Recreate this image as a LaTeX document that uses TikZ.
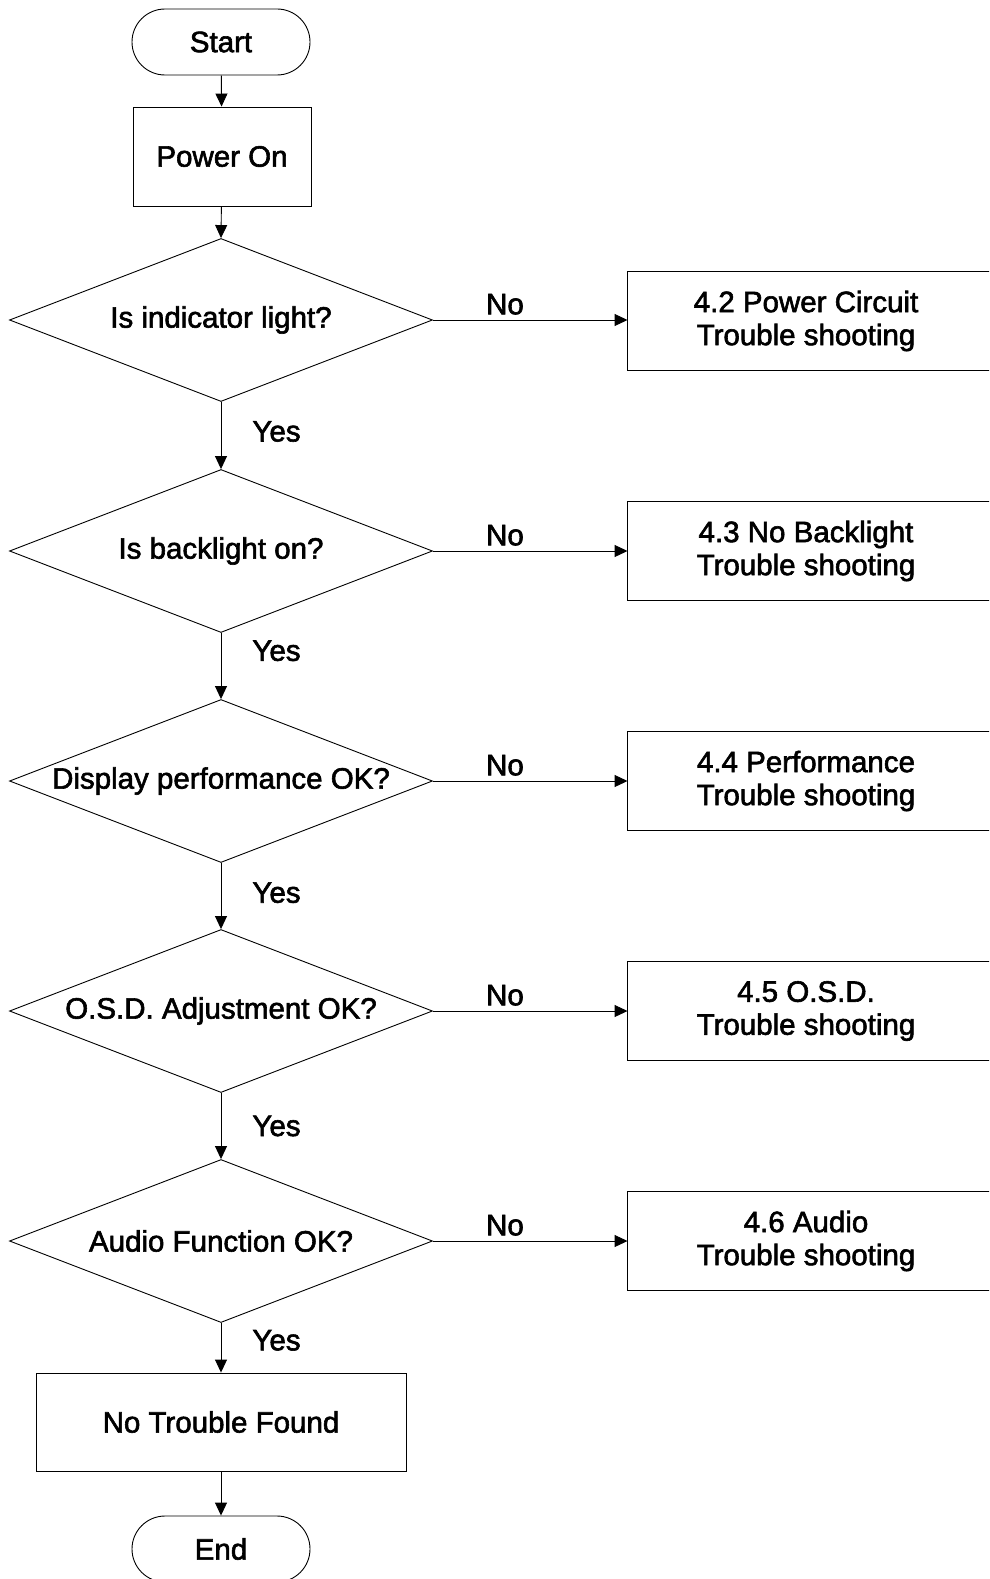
\documentclass[tikz,border=0pt]{standalone}
\usepackage{fontspec}
\setmainfont{Liberation Sans}[FakeBold=2]
\usetikzlibrary{shapes.geometric,arrows.meta}
\begin{document}
\begin{tikzpicture}[x=1pt,y=1pt,line width=0.9pt,
  every node/.style={font=\fontsize{29.5}{33}\selectfont},
  term/.style={draw, rectangle, rounded corners=33pt, minimum width=178pt, minimum height=66pt, inner sep=0pt},
  proc/.style={draw, rectangle, minimum width=178pt, minimum height=99pt, inner sep=0pt},
  wideproc/.style={draw, rectangle, minimum width=370pt, minimum height=98pt, inner sep=0pt},
  dec/.style={draw, diamond, aspect=2.6, minimum width=423pt, minimum height=163pt, inner sep=0pt},
  side/.style={rectangle, minimum width=356pt, minimum height=98pt, inner sep=0pt, align=center},
  sideframe/.style={draw},
  arr/.style={-{Triangle[length=13pt,width=12pt]}},
  yeslbl/.style={anchor=west, inner sep=0pt, xshift=31pt},
  nolbl/.style={anchor=south, inner sep=0pt, yshift=5pt}]
\useasboundingbox (0,0) rectangle (989,-1579);
\clip (0,0) rectangle (989,-1579);
% main column
\node[term] (start) at (221,-42) {Start};
\node[proc] (power) at (222,-156.5) {Power On};
\node[dec] (d1) at (221,-320) {Is indicator light?};
\node[dec] (d2) at (221,-551) {Is backlight on?};
\node[dec] (d3) at (221,-781) {Display performance OK?};
\node[dec] (d4) at (221,-1011) {O.S.D. Adjustment OK?};
\node[dec] (d5) at (221,-1241) {Audio Function OK?};
\node[wideproc] (ntf) at (221,-1422) {No Trouble Found};
\node[term] (end) at (221,-1549) {End};
% side boxes
\node[side] (b1) at (806,-321) {4.2 Power Circuit\\Trouble shooting};
\node[side] (b2) at (806,-551) {4.3 No Backlight\\Trouble shooting};
\node[side] (b3) at (806,-781) {4.4 Performance\\Trouble shooting};
\node[side] (b4) at (806,-1011) {4.5 O.S.D.\\Trouble shooting};
\node[side] (b5) at (806,-1241) {4.6 Audio\\Trouble shooting};
\foreach \b in {b1,b2,b3,b4,b5}{
  \draw[sideframe] ([xshift=30pt]\b.north east) -- (\b.north west) -- (\b.south west) -- ([xshift=30pt]\b.south east);
}
% connectors
\draw[arr] (start) -- (power);
\draw[arr] (power) -- (d1.north);
\draw[arr] (d1.south) -- node[yeslbl, pos=0.44] {Yes} (d2.north);
\draw[arr] (d2.south) -- node[yeslbl, pos=0.27] {Yes} (d3.north);
\draw[arr] (d3.south) -- node[yeslbl, pos=0.45] {Yes} (d4.north);
\draw[arr] (d4.south) -- node[yeslbl, pos=0.5] {Yes} (d5.north);
\draw[arr] (d5.south) -- node[yeslbl, pos=0.35] {Yes} (ntf.north);
\draw[arr] (ntf) -- (end);
\draw[arr] (d1.east) -- node[nolbl, pos=0.37] {No} (b1.west |- d1.east);
\draw[arr] (d2.east) -- node[nolbl, pos=0.37] {No} (b2.west |- d2.east);
\draw[arr] (d3.east) -- node[nolbl, pos=0.37] {No} (b3.west |- d3.east);
\draw[arr] (d4.east) -- node[nolbl, pos=0.37] {No} (b4.west |- d4.east);
\draw[arr] (d5.east) -- node[nolbl, pos=0.37] {No} (b5.west |- d5.east);
\end{tikzpicture}
\end{document}
